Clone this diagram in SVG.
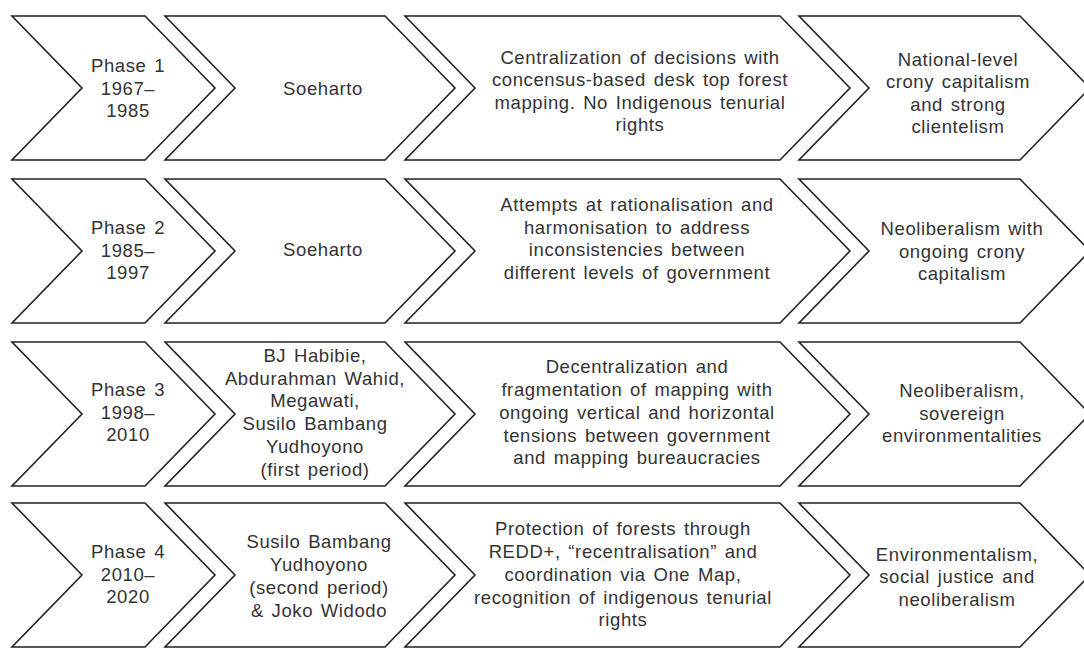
<svg xmlns="http://www.w3.org/2000/svg" width="1084" height="648" viewBox="0 0 1084 648">
<style>
.chev{fill:#ffffff;stroke:#222222;stroke-width:1.6;stroke-linejoin:miter}
.t{font-family:"Liberation Sans",Arial,Helvetica,sans-serif;font-size:18.5px;fill:#333333;text-anchor:middle;letter-spacing:0.6px;word-spacing:2px}
</style>
<rect x="0" y="0" width="1084" height="648" fill="#ffffff"/>

<!-- Row 1 -->
<g id="r1c1"><polygon class="chev" points="12,16 145,16 215,88 145,160 12,160 82,88"/>
<text class="t"><tspan x="128" y="72">Phase 1</tspan><tspan x="128" y="94.5">1967–</tspan><tspan x="128" y="117">1985</tspan></text></g>
<g id="r1c2"><polygon class="chev" points="165,16 385,16 455,88 385,160 165,160 235,88"/>
<text class="t"><tspan x="323" y="94.5">Soeharto</tspan></text></g>
<g id="r1c3"><polygon class="chev" points="405,16 780,16 850,88 780,160 405,160 475,88"/>
<text class="t"><tspan x="640" y="63.5">Centralization of decisions with</tspan><tspan x="640" y="86">concensus-based desk top forest</tspan><tspan x="640" y="108.5">mapping. No Indigenous tenurial</tspan><tspan x="640" y="131">rights</tspan></text></g>
<g id="r1c4"><polygon class="chev" points="799,16 1020,16 1090,88 1020,160 799,160 869,88"/>
<text class="t"><tspan x="958" y="65.5">National-level</tspan><tspan x="958" y="88">crony capitalism</tspan><tspan x="958" y="110.5">and strong</tspan><tspan x="958" y="133">clientelism</tspan></text></g>

<!-- Row 2 -->
<g id="r2c1"><polygon class="chev" points="12,179 145,179 215,251 145,323 12,323 82,251"/>
<text class="t"><tspan x="128" y="234">Phase 2</tspan><tspan x="128" y="256.5">1985–</tspan><tspan x="128" y="279">1997</tspan></text></g>
<g id="r2c2"><polygon class="chev" points="165,179 385,179 455,251 385,323 165,323 235,251"/>
<text class="t"><tspan x="323" y="256">Soeharto</tspan></text></g>
<g id="r2c3"><polygon class="chev" points="405,179 780,179 850,251 780,323 405,323 475,251"/>
<text class="t"><tspan x="637" y="211">Attempts at rationalisation and</tspan><tspan x="637" y="233.5">harmonisation to address</tspan><tspan x="637" y="256">inconsistencies between</tspan><tspan x="637" y="278.5">different levels of government</tspan></text></g>
<g id="r2c4"><polygon class="chev" points="799,179 1020,179 1090,251 1020,323 799,323 869,251"/>
<text class="t"><tspan x="962" y="235">Neoliberalism with</tspan><tspan x="962" y="257.5">ongoing crony</tspan><tspan x="962" y="280">capitalism</tspan></text></g>

<!-- Row 3 -->
<g id="r3c1"><polygon class="chev" points="12,342 145,342 215,414 145,486 12,486 82,414"/>
<text class="t"><tspan x="128" y="396">Phase 3</tspan><tspan x="128" y="418.5">1998–</tspan><tspan x="128" y="441">2010</tspan></text></g>
<g id="r3c2"><polygon class="chev" points="165,342 385,342 455,414 385,486 165,486 235,414"/>
<text class="t"><tspan x="315" y="362">BJ Habibie,</tspan><tspan x="315" y="384.7">Abdurahman Wahid,</tspan><tspan x="315" y="407.4">Megawati,</tspan><tspan x="315" y="430.1">Susilo Bambang</tspan><tspan x="315" y="452.8">Yudhoyono</tspan><tspan x="315" y="475.5">(first period)</tspan></text></g>
<g id="r3c3"><polygon class="chev" points="405,342 780,342 850,414 780,486 405,486 475,414"/>
<text class="t"><tspan x="637" y="373">Decentralization and</tspan><tspan x="637" y="396">fragmentation of mapping with</tspan><tspan x="637" y="419">ongoing vertical and horizontal</tspan><tspan x="637" y="441.5">tensions between government</tspan><tspan x="637" y="464">and mapping bureaucracies</tspan></text></g>
<g id="r3c4"><polygon class="chev" points="799,342 1020,342 1090,414 1020,486 799,486 869,414"/>
<text class="t"><tspan x="962" y="397">Neoliberalism,</tspan><tspan x="962" y="419.5">sovereign</tspan><tspan x="962" y="442">environmentalities</tspan></text></g>

<!-- Row 4 -->
<g id="r4c1"><polygon class="chev" points="12,503 145,503 215,575 145,647 12,647 82,575"/>
<text class="t"><tspan x="128" y="557.5">Phase 4</tspan><tspan x="128" y="580.5">2010–</tspan><tspan x="128" y="603">2020</tspan></text></g>
<g id="r4c2"><polygon class="chev" points="165,503 385,503 455,575 385,647 165,647 235,575"/>
<text class="t"><tspan x="319" y="548">Susilo Bambang</tspan><tspan x="319" y="571">Yudhoyono</tspan><tspan x="319" y="594">(second period)</tspan><tspan x="319" y="617">&amp; Joko Widodo</tspan></text></g>
<g id="r4c3"><polygon class="chev" points="405,503 780,503 850,575 780,647 405,647 475,575"/>
<text class="t"><tspan x="623" y="535">Protection of forests through</tspan><tspan x="623" y="558">REDD+, “recentralisation” and</tspan><tspan x="623" y="581">coordination via One Map,</tspan><tspan x="623" y="603.5">recognition of indigenous tenurial</tspan><tspan x="623" y="626">rights</tspan></text></g>
<g id="r4c4"><polygon class="chev" points="799,503 1020,503 1090,575 1020,647 799,647 869,575"/>
<text class="t"><tspan x="957" y="560.5">Environmentalism,</tspan><tspan x="957" y="583">social justice and</tspan><tspan x="957" y="606">neoliberalism</tspan></text></g>
</svg>
